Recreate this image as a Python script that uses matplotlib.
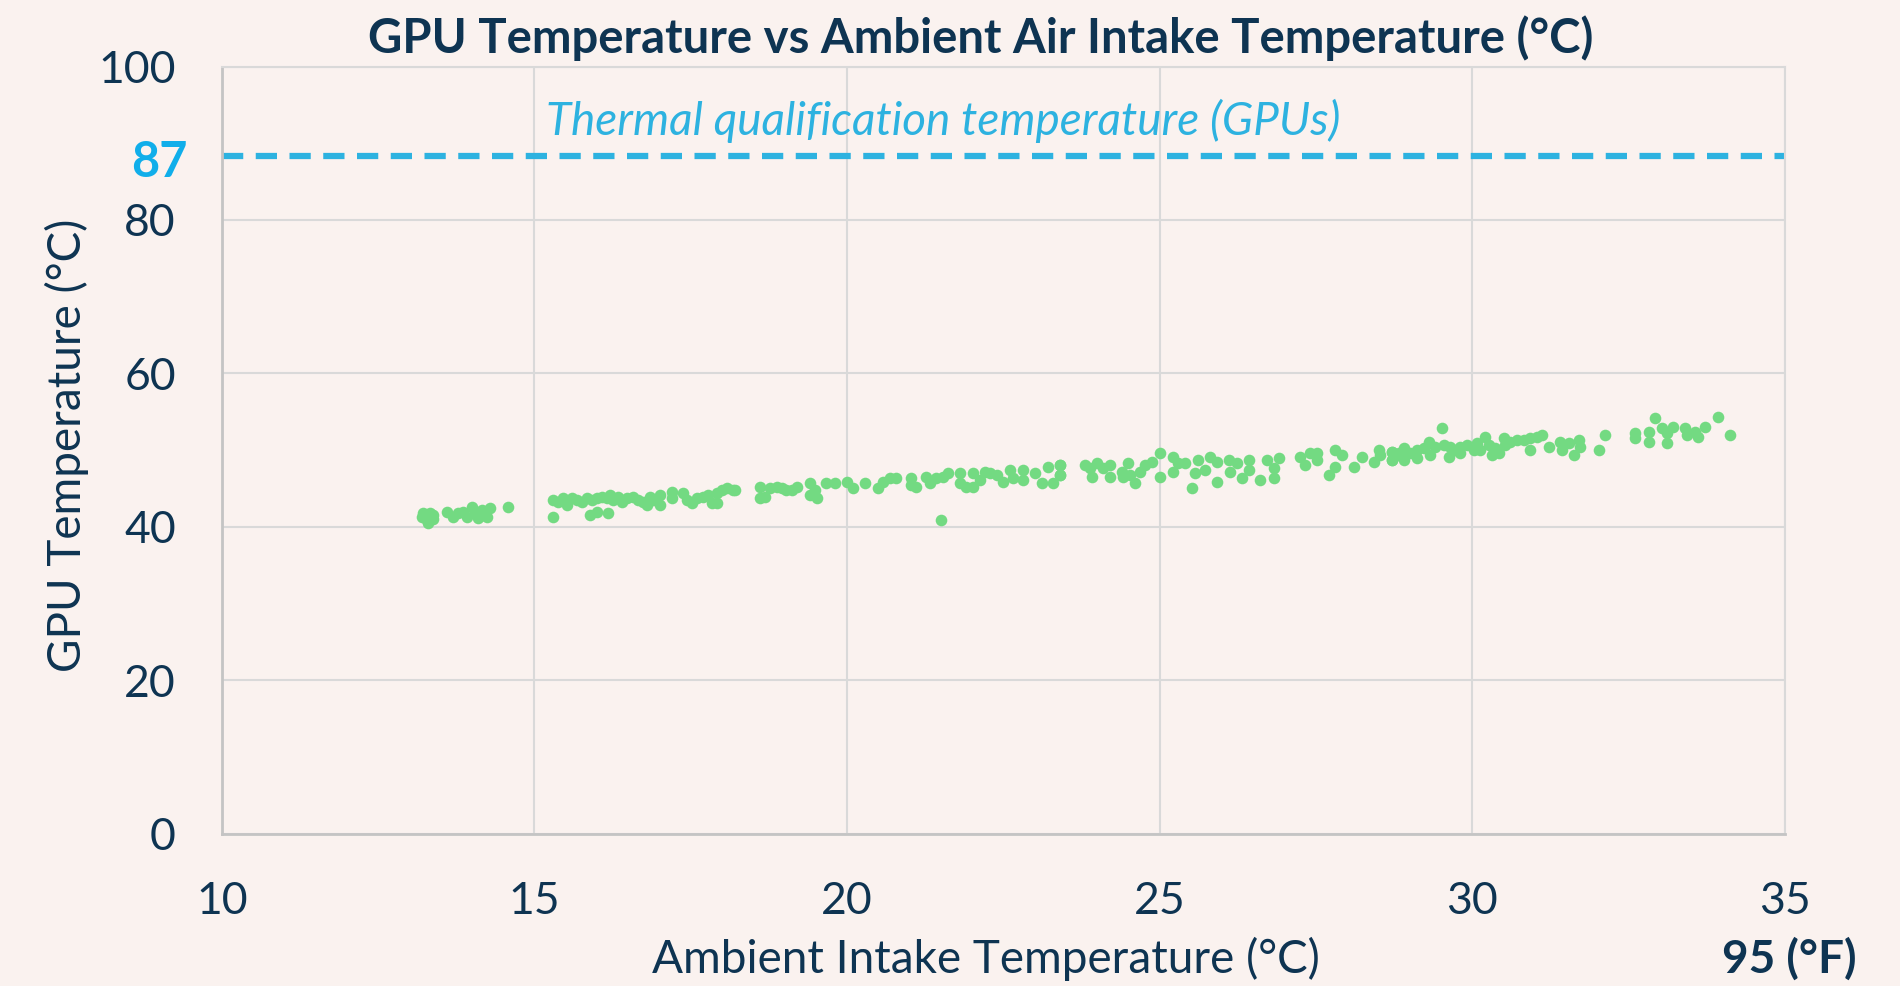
import matplotlib
matplotlib.use("Agg")
import matplotlib.pyplot as plt

# --- data ---
ambient_c = [
    13.22, 13.33, 13.38, 13.28, 13.30, 13.20, 13.38, 13.60, 13.70, 13.78,
    13.86, 13.92, 14.00, 14.05, 14.10, 14.18, 14.24, 14.29, 14.16, 14.58,
    15.30, 15.30, 15.38, 15.46, 15.52, 15.60, 15.68, 15.76, 15.84, 15.92,
    16.00, 16.08, 16.16, 16.21, 16.26, 16.34, 16.40, 16.48, 16.58, 16.66,
    16.74, 16.80, 16.85, 16.90, 17.01, 17.01, 17.20, 17.20, 17.38, 17.44,
    17.52, 17.60, 17.70, 17.78, 17.84, 17.92, 17.92, 18.00, 18.08, 18.18,
    15.89, 16.00, 16.18,
    18.21, 18.61, 18.61, 18.69, 18.77, 18.88, 18.96, 19.03, 19.12, 19.20,
    19.41, 19.41, 19.49, 19.52, 19.67, 19.81, 20.00, 20.10, 20.29, 20.50,
    20.58, 20.69, 20.79, 21.03, 21.03, 21.11, 21.27, 21.33, 21.43, 21.54,
    21.62, 21.51, 21.81, 21.81, 21.91, 22.02, 22.02, 22.13, 22.21, 22.29,
    22.39, 22.50, 22.61, 22.66, 22.82, 22.82, 23.01, 23.11, 23.22, 23.30,
    23.41, 23.41,
    23.41, 23.41, 23.81, 23.89, 23.91, 23.99, 24.10, 24.21, 24.21, 24.39,
    24.42, 24.50, 24.53, 24.61, 24.69, 24.77, 24.87, 25.01, 25.01, 25.22,
    25.22, 25.30, 25.40, 25.51, 25.57, 25.62, 25.73, 25.80, 25.91, 25.91,
    26.10, 26.12, 26.23, 26.31, 26.42, 26.42, 26.60, 26.71, 26.82, 26.82,
    26.90, 27.24, 27.32, 27.40, 27.51, 27.51, 27.70, 27.80, 27.80, 27.91,
    28.10, 28.23, 28.42, 28.50, 28.52, 28.71, 28.71, 28.82,
    28.71, 28.71, 28.79, 28.90, 28.90, 29.00, 29.11, 29.11, 29.22, 29.30,
    29.32, 29.40, 29.51, 29.54, 29.62, 29.64, 29.72, 29.80, 29.80, 29.91,
    30.02, 30.07, 30.12, 30.20, 30.26, 30.31, 30.36, 30.42, 30.50, 30.52,
    30.60, 30.71, 30.82, 30.92, 30.92, 31.03, 31.11, 31.22, 31.40, 31.43,
    31.54, 31.62, 31.70, 31.72, 32.02, 32.12, 32.60, 32.60, 32.82, 32.82,
    32.92, 33.03, 33.11, 33.11, 33.21, 33.40, 33.43, 33.56, 33.61, 33.72,
    33.93, 34.12,
]
gpu_c = [
    41.76, 41.76, 41.54, 40.89, 40.54, 41.33, 40.98, 41.98, 41.33, 41.76,
    41.98, 41.33, 42.63, 41.98, 41.11, 41.54, 41.33, 42.41, 42.20, 42.63,
    41.33, 43.50, 43.28, 43.72, 42.85, 43.72, 43.50, 43.28, 43.72, 43.50,
    43.72, 43.93, 43.72, 44.15, 43.50, 43.93, 43.28, 43.72, 43.93, 43.50,
    43.28, 42.85, 43.93, 43.50, 44.15, 42.85, 44.59, 43.72, 44.37, 43.50,
    43.06, 43.72, 43.93, 44.15, 43.06, 43.06, 44.37, 44.80, 45.02, 44.80,
    41.54, 41.98, 41.76,
    44.80, 45.24, 43.71, 43.93, 45.02, 45.24, 45.02, 44.80, 44.80, 45.24,
    45.67, 44.15, 44.80, 43.71, 45.67, 45.67, 45.89, 45.02, 45.67, 45.02,
    45.89, 46.32, 46.32, 46.32, 45.45, 45.24, 46.54, 45.67, 46.32, 46.54,
    46.97, 40.89, 46.97, 45.67, 45.24, 46.97, 45.24, 46.11, 47.19, 46.97,
    46.76, 45.89, 47.41, 46.32, 47.41, 46.11, 46.97, 45.67, 47.84, 45.67,
    48.06, 46.76,
    48.06, 46.76, 48.06, 47.62, 46.54, 48.28, 47.62, 48.06, 46.54, 47.19,
    46.54, 48.28, 46.76, 45.67, 47.19, 48.06, 48.49, 49.58, 46.54, 49.15,
    47.19, 48.28, 48.28, 45.02, 46.97, 48.71, 47.41, 49.15, 48.49, 45.89,
    48.71, 47.19, 48.28, 46.32, 48.71, 47.41, 46.11, 48.71, 47.62, 46.32,
    48.93, 49.15, 48.06, 49.58, 49.58, 48.71, 46.76, 50.01, 47.84, 49.36,
    47.84, 49.15, 48.49, 50.01, 49.36, 48.71, 49.80, 49.58,
    48.71, 49.79, 49.36, 50.23, 48.71, 49.58, 50.01, 48.92, 50.23, 51.10,
    49.36, 50.45, 52.84, 50.66, 49.14, 50.45, 50.01, 50.45, 49.58, 50.66,
    50.01, 50.88, 50.01, 51.75, 50.66, 49.36, 50.23, 49.58, 51.53, 50.66,
    51.10, 51.32, 51.32, 51.53, 50.01, 51.75, 51.97, 50.45, 51.10, 50.01,
    50.88, 49.36, 51.32, 50.45, 50.01, 51.97, 52.18, 51.53, 52.40, 51.10,
    54.14, 52.84, 50.88, 52.18, 53.05, 52.84, 51.97, 52.40, 51.75, 53.05,
    54.36, 51.97,
]
qual_line = 88.3          # where the dashed line sits in the picture
qual_label = "87"
x_ticks = [10, 15, 20, 25, 30, 35]
y_ticks = [0, 20, 40, 60, 80, 100]

BG = "#faf2ef"
NAVY = "#0e3452"
GREEN = "#73da82"
BLUE = "#2db2e0"
GRID = "#d9d9d9"

plt.rcParams["font.family"] = ["Lato", "DejaVu Sans"]

fig = plt.figure(figsize=(19, 9.86), dpi=100, facecolor=BG)
ax = fig.add_axes([0.1167, 0.1546, 0.8228, 0.7779], facecolor=BG)

ax.scatter(ambient_c, gpu_c, s=70, color=GREEN, linewidths=0, zorder=3)
ax.axhline(qual_line, color=BLUE, lw=4.5, linestyle=(0, (3.4, 2.0)), zorder=2)

ax.set_xlim(10, 35)
ax.set_ylim(0, 100)
ax.set_xticks(x_ticks)
ax.set_yticks(y_ticks)
ax.grid(True, color=GRID, lw=1.5, zorder=0)
ax.tick_params(length=0, labelsize=32, labelcolor=NAVY)
ax.tick_params(axis="y", pad=33)
ax.tick_params(axis="x", pad=34)

for side in ["top", "right"]:
    ax.spines[side].set_color(GRID)
    ax.spines[side].set_linewidth(1.5)
for side in ["left", "bottom"]:
    ax.spines[side].set_color("#c4c4c4")
    ax.spines[side].set_linewidth(2)

ax.text(-0.0216, qual_line - 0.8, qual_label, transform=ax.get_yaxis_transform(),
        ha="right", va="center", fontsize=35, fontweight="bold", color="#10aeea")
ax.text(21.54, 92.9, "Thermal qualification temperature (GPUs)", ha="center", va="center",
        fontsize=33, style="italic", color=BLUE)

fig.text(0.516, 0.961, "GPU Temperature vs Ambient Air Intake Temperature (°C)",
         ha="center", va="center", fontsize=34, fontweight="bold", color=NAVY)
fig.text(0.0353, 0.5487, "GPU Temperature (°C)", rotation=90, ha="center", va="center",
         fontsize=33, color=NAVY)
fig.text(0.519, 0.027, "Ambient Intake Temperature (°C)", ha="center", va="center",
         fontsize=33, color=NAVY)
fig.text(0.977, 0.027, "95 (°F)", ha="right", va="center",
         fontsize=33, fontweight="bold", color=NAVY)

fig.savefig("out.png", dpi=100, facecolor=BG)
